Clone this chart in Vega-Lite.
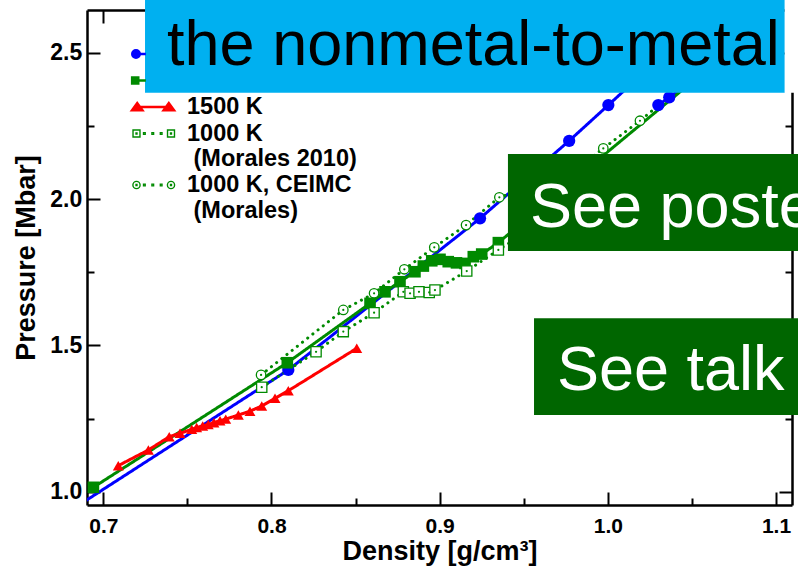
{
  "$schema": "https://vega.github.io/schema/vega-lite/v6.json",
  "width": 705,
  "height": 495,
  "autosize": {"type": "none"},
  "padding": {"left": 87, "top": 10, "right": 6, "bottom": 62},
  "background": "white",
  "config": {"view": {"stroke": null}, "font": "Liberation Sans"},
  "data": {
    "values": [
      {"series": "2000 K", "run": "a", "density": 0.680, "pressure": 0.934},
      {"series": "2000 K", "run": "a", "density": 0.810, "pressure": 1.416},
      {"series": "2000 K", "run": "a", "density": 0.924, "pressure": 1.934},
      {"series": "2000 K", "run": "a", "density": 0.977, "pressure": 2.199},
      {"series": "2000 K", "run": "a", "density": 1.0003, "pressure": 2.321},
      {"series": "2000 K", "run": "a", "density": 1.020, "pressure": 2.425},
      {"series": "2000 K", "run": "b", "density": 1.030, "pressure": 2.321},
      {"series": "2000 K", "run": "b", "density": 1.0365, "pressure": 2.3475},
      {"series": "2000 K", "run": "b", "density": 1.050, "pressure": 2.403},

      {"series": "1000 K", "run": "a", "density": 0.6941, "pressure": 1.015},
      {"series": "1000 K", "run": "a", "density": 0.8094, "pressure": 1.4407},
      {"series": "1000 K", "run": "a", "density": 0.8586, "pressure": 1.6437},
      {"series": "1000 K", "run": "a", "density": 0.8675, "pressure": 1.683},
      {"series": "1000 K", "run": "a", "density": 0.8764, "pressure": 1.7175},
      {"series": "1000 K", "run": "a", "density": 0.8853, "pressure": 1.7516},
      {"series": "1000 K", "run": "a", "density": 0.8903, "pressure": 1.771},
      {"series": "1000 K", "run": "a", "density": 0.8953, "pressure": 1.789},
      {"series": "1000 K", "run": "a", "density": 0.9002, "pressure": 1.794},
      {"series": "1000 K", "run": "a", "density": 0.9051, "pressure": 1.786},
      {"series": "1000 K", "run": "a", "density": 0.9100, "pressure": 1.782},
      {"series": "1000 K", "run": "a", "density": 0.9151, "pressure": 1.780},
      {"series": "1000 K", "run": "a", "density": 0.9200, "pressure": 1.803},
      {"series": "1000 K", "run": "a", "density": 0.9250, "pressure": 1.812},
      {"series": "1000 K", "run": "a", "density": 0.9349, "pressure": 1.851},
      {"series": "1000 K", "run": "a", "density": 0.960, "pressure": 1.971},
      {"series": "1000 K", "run": "a", "density": 0.990, "pressure": 2.114},
      {"series": "1000 K", "run": "a", "density": 1.050, "pressure": 2.400},

      {"series": "1500 K", "run": "a", "density": 0.7089, "pressure": 1.089},
      {"series": "1500 K", "run": "a", "density": 0.7268, "pressure": 1.1425},
      {"series": "1500 K", "run": "a", "density": 0.7392, "pressure": 1.188},
      {"series": "1500 K", "run": "a", "density": 0.7456, "pressure": 1.1995},
      {"series": "1500 K", "run": "a", "density": 0.7526, "pressure": 1.213},
      {"series": "1500 K", "run": "a", "density": 0.7555, "pressure": 1.219},
      {"series": "1500 K", "run": "a", "density": 0.7591, "pressure": 1.2245},
      {"series": "1500 K", "run": "a", "density": 0.7624, "pressure": 1.230},
      {"series": "1500 K", "run": "a", "density": 0.7658, "pressure": 1.236},
      {"series": "1500 K", "run": "a", "density": 0.7694, "pressure": 1.2426},
      {"series": "1500 K", "run": "a", "density": 0.7728, "pressure": 1.248},
      {"series": "1500 K", "run": "a", "density": 0.7803, "pressure": 1.262},
      {"series": "1500 K", "run": "a", "density": 0.7872, "pressure": 1.275},
      {"series": "1500 K", "run": "a", "density": 0.7942, "pressure": 1.293},
      {"series": "1500 K", "run": "a", "density": 0.8021, "pressure": 1.319},
      {"series": "1500 K", "run": "a", "density": 0.8100, "pressure": 1.345},
      {"series": "1500 K", "run": "a", "density": 0.8507, "pressure": 1.490},

      {"series": "1000 K (Morales 2010)", "run": "a", "density": 0.7942, "pressure": 1.357},
      {"series": "1000 K (Morales 2010)", "run": "a", "density": 0.8265, "pressure": 1.478},
      {"series": "1000 K (Morales 2010)", "run": "a", "density": 0.8427, "pressure": 1.547},
      {"series": "1000 K (Morales 2010)", "run": "a", "density": 0.8610, "pressure": 1.6115},
      {"series": "1000 K (Morales 2010)", "run": "a", "density": 0.8784, "pressure": 1.683},
      {"series": "1000 K (Morales 2010)", "run": "a", "density": 0.8824, "pressure": 1.678},
      {"series": "1000 K (Morales 2010)", "run": "a", "density": 0.8877, "pressure": 1.683},
      {"series": "1000 K (Morales 2010)", "run": "a", "density": 0.8938, "pressure": 1.681},
      {"series": "1000 K (Morales 2010)", "run": "a", "density": 0.8972, "pressure": 1.689},
      {"series": "1000 K (Morales 2010)", "run": "a", "density": 0.9161, "pressure": 1.754},
      {"series": "1000 K (Morales 2010)", "run": "a", "density": 0.9349, "pressure": 1.826},
      {"series": "1000 K (Morales 2010)", "run": "a", "density": 0.955, "pressure": 1.900},

      {"series": "1000 K, CEIMC (Morales)", "run": "a", "density": 0.7938, "pressure": 1.399},
      {"series": "1000 K, CEIMC (Morales)", "run": "a", "density": 0.8427, "pressure": 1.621},
      {"series": "1000 K, CEIMC (Morales)", "run": "a", "density": 0.8610, "pressure": 1.678},
      {"series": "1000 K, CEIMC (Morales)", "run": "a", "density": 0.8790, "pressure": 1.760},
      {"series": "1000 K, CEIMC (Morales)", "run": "a", "density": 0.8968, "pressure": 1.835},
      {"series": "1000 K, CEIMC (Morales)", "run": "a", "density": 0.9157, "pressure": 1.911},
      {"series": "1000 K, CEIMC (Morales)", "run": "a", "density": 0.9355, "pressure": 2.006},
      {"series": "1000 K, CEIMC (Morales)", "run": "a", "density": 0.975, "pressure": 2.076},
      {"series": "1000 K, CEIMC (Morales)", "run": "a", "density": 0.9973, "pressure": 2.173},
      {"series": "1000 K, CEIMC (Morales)", "run": "a", "density": 1.0191, "pressure": 2.2675},
      {"series": "1000 K, CEIMC (Morales)", "run": "a", "density": 1.045, "pressure": 2.390}
    ]
  },
  "resolve": {
    "scale": {"color": "independent", "shape": "independent", "size": "independent", "strokeDash": "independent"},
    "axis": {"x": "independent", "y": "independent"}
  },
  "layer": [
    {
      "mark": {"type": "line", "clip": true, "strokeWidth": 3, "strokeCap": "round"},
      "encoding": {
        "x": {
          "field": "density", "type": "quantitative",
          "scale": {"domain": [0.6903, 1.1095], "nice": false, "zero": false},
          "axis": {
            "orient": "bottom", "values": [0.7, 0.8, 0.9, 1.0, 1.1], "format": ".1f",
            "tickSize": -13, "tickWidth": 2, "tickColor": "black",
            "domainColor": "black", "domainWidth": 2.5, "grid": false,
            "labelFont": "Liberation Sans", "labelFontSize": 21, "labelFontWeight": "bold", "labelColor": "black",
            "labelPadding": 23.5, "labelFlush": false, "labelOverlap": false,
            "title": "Density [g/cm³]", "titleFont": "Liberation Sans", "titleFontSize": 27,
            "titleFontWeight": "bold", "titleColor": "black", "titlePadding": 2
          }
        },
        "y": {
          "field": "pressure", "type": "quantitative",
          "scale": {"domain": [0.9546, 2.6459], "nice": false, "zero": false},
          "axis": {
            "orient": "left", "values": [1.0, 1.5, 2.0, 2.5], "format": ".1f",
            "tickSize": -13, "tickWidth": 2, "tickColor": "black",
            "domainColor": "black", "domainWidth": 2.5, "grid": false,
            "labelFont": "Liberation Sans", "labelFontSize": 23, "labelFontWeight": "bold", "labelColor": "black",
            "labelPadding": 18.3, "labelFlush": false, "labelOverlap": false,
            "title": "Pressure [Mbar]", "titleFont": "Liberation Sans", "titleFontSize": 27,
            "titleFontWeight": "bold", "titleColor": "black", "titlePadding": 9
          }
        },
        "color": {
          "field": "series", "type": "nominal", "legend": null,
          "scale": {
            "domain": ["2000 K", "1000 K", "1500 K", "1000 K (Morales 2010)", "1000 K, CEIMC (Morales)"],
            "range": ["#0000ff", "#008a00", "#ff0000", "#008a00", "#008a00"]
          }
        },
        "strokeDash": {
          "field": "series", "type": "nominal", "legend": null,
          "scale": {
            "domain": ["2000 K", "1000 K", "1500 K", "1000 K (Morales 2010)", "1000 K, CEIMC (Morales)"],
            "range": [[1, 0], [1, 0], [1, 0], [0.1, 6.5], [0.1, 6.5]]
          }
        },
        "detail": {"field": "run", "type": "nominal"}
      }
    },
    {
      "transform": [{"filter": {"field": "series", "oneOf": ["2000 K", "1000 K", "1500 K"]}}],
      "mark": {"type": "point", "filled": true, "opacity": 1, "clip": true},
      "encoding": {
        "x": {
          "field": "density", "type": "quantitative",
          "axis": {
            "orient": "bottom", "values": [0.75, 0.85, 0.95, 1.05], "labels": false, "domain": false,
            "tickSize": -7, "tickWidth": 2, "tickColor": "black", "grid": false, "title": null
          }
        },
        "y": {
          "field": "pressure", "type": "quantitative",
          "axis": {
            "orient": "left", "values": [1.25, 1.75, 2.25], "labels": false, "domain": false,
            "tickSize": -7, "tickWidth": 2, "tickColor": "black", "grid": false, "title": null
          }
        },
        "color": {
          "field": "series", "type": "nominal", "legend": null,
          "scale": {
            "domain": ["2000 K", "1000 K", "1500 K", "1000 K (Morales 2010)", "1000 K, CEIMC (Morales)"],
            "range": ["#0000ff", "#008a00", "#ff0000", "#008a00", "#008a00"]
          }
        },
        "shape": {
          "field": "series", "type": "nominal", "legend": null,
          "scale": {
            "domain": ["2000 K", "1000 K", "1500 K", "1000 K (Morales 2010)", "1000 K, CEIMC (Morales)"],
            "range": ["circle", "square", "triangle-up", "square", "circle"]
          }
        },
        "size": {
          "field": "series", "type": "nominal", "legend": null,
          "scale": {
            "domain": ["2000 K", "1000 K", "1500 K", "1000 K (Morales 2010)", "1000 K, CEIMC (Morales)"],
            "range": [150, 90, 120, 49, 56]
          }
        }
      }
    },
    {
      "transform": [{"filter": {"field": "series", "oneOf": ["1000 K (Morales 2010)", "1000 K, CEIMC (Morales)"]}}],
      "mark": {"type": "point", "filled": false, "fill": "white", "strokeWidth": 1.3, "opacity": 1, "clip": true},
      "encoding": {
        "x": {
          "field": "density", "type": "quantitative",
          "axis": {
            "orient": "top", "values": [0.7, 0.8, 0.9, 1.0, 1.1], "labels": false,
            "tickSize": -13, "tickWidth": 2, "tickColor": "black",
            "domainColor": "black", "domainWidth": 2.5, "grid": false, "title": null
          }
        },
        "y": {
          "field": "pressure", "type": "quantitative",
          "axis": {
            "orient": "right", "values": [1.0, 1.5, 2.0, 2.5], "labels": false,
            "tickSize": -13, "tickWidth": 2, "tickColor": "black",
            "domainColor": "black", "domainWidth": 2.5, "grid": false, "title": null
          }
        },
        "color": {
          "field": "series", "type": "nominal", "legend": null,
          "scale": {
            "domain": ["2000 K", "1000 K", "1500 K", "1000 K (Morales 2010)", "1000 K, CEIMC (Morales)"],
            "range": ["#0000ff", "#008a00", "#ff0000", "#008a00", "#008a00"]
          }
        },
        "shape": {
          "field": "series", "type": "nominal", "legend": null,
          "scale": {
            "domain": ["2000 K", "1000 K", "1500 K", "1000 K (Morales 2010)", "1000 K, CEIMC (Morales)"],
            "range": ["circle", "square", "triangle-up", "square", "circle"]
          }
        },
        "size": {
          "field": "series", "type": "nominal", "legend": null,
          "scale": {
            "domain": ["2000 K", "1000 K", "1500 K", "1000 K (Morales 2010)", "1000 K, CEIMC (Morales)"],
            "range": [150, 90, 120, 49, 56]
          }
        }
      }
    },
    {
      "transform": [{"filter": {"field": "series", "oneOf": ["1000 K (Morales 2010)", "1000 K, CEIMC (Morales)"]}}],
      "mark": {"type": "circle", "size": 5, "opacity": 1, "clip": true},
      "encoding": {
        "x": {
          "field": "density", "type": "quantitative",
          "axis": {
            "orient": "top", "values": [0.75, 0.85, 0.95, 1.05], "labels": false, "domain": false,
            "tickSize": -7, "tickWidth": 2, "tickColor": "black", "grid": false, "title": null
          }
        },
        "y": {
          "field": "pressure", "type": "quantitative",
          "axis": {
            "orient": "right", "values": [1.25, 1.75, 2.25], "labels": false, "domain": false,
            "tickSize": -7, "tickWidth": 2, "tickColor": "black", "grid": false, "title": null
          }
        },
        "color": {
          "field": "series", "type": "nominal", "legend": null,
          "scale": {
            "domain": ["2000 K", "1000 K", "1500 K", "1000 K (Morales 2010)", "1000 K, CEIMC (Morales)"],
            "range": ["#0000ff", "#008a00", "#ff0000", "#008a00", "#008a00"]
          }
        }
      }
    },
    {
      "transform": [{"filter": "datum.density > 9"}],
      "mark": {"type": "point", "filled": false},
      "encoding": {
        "x": {"field": "density", "type": "quantitative", "axis": null},
        "y": {"field": "pressure", "type": "quantitative", "axis": null},
        "color": {
          "field": "series", "type": "nominal",
          "scale": {
            "domain": ["2000 K", "1000 K", "1500 K", "1000 K (Morales 2010)", "1000 K, CEIMC (Morales)"],
            "range": ["#0000ff", "#008a00", "#ff0000", "#008a00", "#008a00"]
          },
          "legend": {
            "title": null, "orient": "none", "legendX": 53, "legendY": 31, "padding": 0,
            "symbolSize": 576, "symbolOpacity": 1, "symbolStrokeWidth": 1.4,
            "labelOffset": 21, "rowPadding": 1.5,
            "labelFont": "Liberation Sans", "labelFontSize": 23.5, "labelFontWeight": "bold", "labelColor": "black",
            "labelLimit": 0,
            "labelExpr": "datum.label == '1500 K' ? '1500 K' : datum.label == '1000 K (Morales 2010)' ? ['1000 K', '\u200b (Morales 2010)'] : datum.label == '1000 K, CEIMC (Morales)' ? ['1000 K, CEIMC', '\u200b (Morales)'] : ''",
            "encode": {"labels": {"lineHeight": {"value": 25}}}
          }
        },
        "shape": {
          "field": "series", "type": "nominal",
          "scale": {
            "domain": ["2000 K", "1000 K", "1500 K", "1000 K (Morales 2010)", "1000 K, CEIMC (Morales)"],
            "range": [
              "M-1.775,0A0.358,0.358,0,1,0,-1.059,0A0.358,0.358,0,1,0,-1.775,0Z M-1.675,0A0.258,0.258,0,1,0,-1.159,0A0.258,0.258,0,1,0,-1.675,0Z M-1.575,0A0.158,0.158,0,1,0,-1.259,0A0.158,0.158,0,1,0,-1.575,0Z M-1.475,0A0.058,0.058,0,1,0,-1.359,0A0.058,0.058,0,1,0,-1.475,0Z M-1.06,-0.055L-0.6,-0.055 M-1.06,0.055L-0.6,0.055",
              "M-1.783,-0.3H-1.183V0.3H-1.783Z M-1.683,-0.2H-1.283V0.2H-1.683Z M-1.583,-0.1H-1.383V0.1H-1.583Z M-1.503,-0.02H-1.463V0.02H-1.503Z M-1.133,-0.055L-0.6,-0.055 M-1.133,0.055L-0.6,0.055",
              "M-1.842,0.323L-1.317,-0.397L-0.792,0.323Z M-1.696,0.256L-1.317,-0.263L-0.938,0.256Z M-1.55,0.19L-1.317,-0.13L-1.084,0.19Z M-1.404,0.123L-1.317,0.003L-1.23,0.123Z M0.792,0.323L1.317,-0.397L1.842,0.323Z M0.938,0.256L1.317,-0.263L1.696,0.256Z M1.084,0.19L1.317,-0.13L1.55,0.19Z M1.23,0.123L1.317,0.003L1.404,0.123Z M-1.317,-0.055L1.317,-0.055 M-1.317,0.055L1.317,0.055",
              "M-1.665,-0.29H-1.085V0.29H-1.665Z M1.21,-0.29H1.79V0.29H1.21Z M-1.415,-0.04H-1.335V0.04H-1.415Z M1.46,-0.04H1.54V0.04H1.46Z M-0.79,-0.07H-0.65V0.07H-0.79Z M-0.09,-0.07H0.05V0.07H-0.09Z M0.61,-0.07H0.75V0.07H0.61Z",
              "M-1.675,0A0.3,0.3,0,1,0,-1.075,0A0.3,0.3,0,1,0,-1.675,0Z M1.2,0A0.3,0.3,0,1,0,1.8,0A0.3,0.3,0,1,0,1.2,0Z M-1.415,-0.04H-1.335V0.04H-1.415Z M1.46,-0.04H1.54V0.04H1.46Z M-0.79,-0.07H-0.65V0.07H-0.79Z M-0.09,-0.07H0.05V0.07H-0.09Z M0.61,-0.07H0.75V0.07H0.61Z"
            ]
          },
          "legend": {
            "title": null, "orient": "none", "legendX": 53, "legendY": 31, "padding": 0,
            "symbolSize": 576, "symbolOpacity": 1, "symbolStrokeWidth": 1.4,
            "labelOffset": 21, "rowPadding": 1.5,
            "labelFont": "Liberation Sans", "labelFontSize": 23.5, "labelFontWeight": "bold", "labelColor": "black",
            "labelLimit": 0,
            "labelExpr": "datum.label == '1500 K' ? '1500 K' : datum.label == '1000 K (Morales 2010)' ? ['1000 K', '\u200b (Morales 2010)'] : datum.label == '1000 K, CEIMC (Morales)' ? ['1000 K, CEIMC', '\u200b (Morales)'] : ''",
            "encode": {"labels": {"lineHeight": {"value": 25}}}
          }
        }
      }
    },
    {
      "data": {"values": [{}]},
      "mark": {"type": "rect", "color": "#00b0f0"},
      "encoding": {
        "x": {"datum": 0.7248, "type": "quantitative", "axis": null},
        "x2": {"datum": 1.1052},
        "y": {"datum": 2.3633, "type": "quantitative", "axis": null},
        "y2": {"datum": 2.72}
      }
    },
    {
      "data": {"values": [{}]},
      "mark": {"type": "rect", "color": "white"},
      "encoding": {
        "x": {"datum": 1.1052, "type": "quantitative", "axis": null},
        "x2": {"datum": 1.14},
        "y": {"datum": 2.3633, "type": "quantitative", "axis": null},
        "y2": {"datum": 2.72}
      }
    },
    {
      "data": {"values": [{}]},
      "mark": {"type": "rect", "color": "#006600"},
      "encoding": {
        "x": {"datum": 0.9406, "type": "quantitative", "axis": null},
        "x2": {"datum": 1.16},
        "y": {"datum": 1.8225, "type": "quantitative", "axis": null},
        "y2": {"datum": 2.1539}
      }
    },
    {
      "data": {"values": [{}]},
      "mark": {"type": "rect", "color": "#006600"},
      "encoding": {
        "x": {"datum": 0.9561, "type": "quantitative", "axis": null},
        "x2": {"datum": 1.16},
        "y": {"datum": 1.2621, "type": "quantitative", "axis": null},
        "y2": {"datum": 1.5925}
      }
    },
    {
      "data": {"values": [{}]},
      "mark": {"type": "text", "align": "left", "baseline": "alphabetic", "font": "Liberation Sans", "fontSize": 63, "color": "black"},
      "encoding": {
        "x": {"datum": 0.7379, "type": "quantitative", "axis": null},
        "y": {"datum": 2.4580, "type": "quantitative", "axis": null},
        "text": {"value": "the nonmetal-to-metal"}
      }
    },
    {
      "data": {"values": [{}]},
      "mark": {"type": "text", "align": "left", "baseline": "alphabetic", "font": "Liberation Sans", "fontSize": 63, "color": "white"},
      "encoding": {
        "x": {"datum": 0.9537, "type": "quantitative", "axis": null},
        "y": {"datum": 1.9055, "type": "quantitative", "axis": null},
        "text": {"value": "See poster"}
      }
    },
    {
      "data": {"values": [{}]},
      "mark": {"type": "text", "align": "left", "baseline": "alphabetic", "font": "Liberation Sans", "fontSize": 63, "color": "white"},
      "encoding": {
        "x": {"datum": 0.9697, "type": "quantitative", "axis": null},
        "y": {"datum": 1.3475, "type": "quantitative", "axis": null},
        "text": {"value": "See talk"}
      }
    }
  ]
}
